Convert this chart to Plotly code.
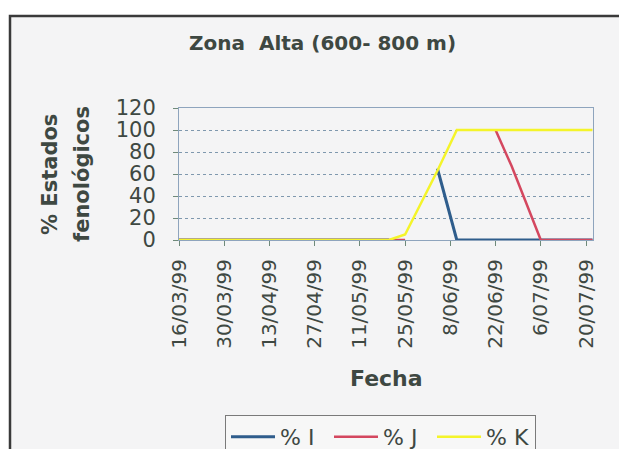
import plotly.graph_objects as go

# ---- data ----
fechas = ["1999-03-16", "1999-05-20", "1999-05-25", "1999-06-04", "1999-06-10",
          "1999-06-22", "1999-06-27", "1999-07-06", "1999-07-22"]
pct_I = [0, 0, None, 65, 0, 0, 0, 0, 0]
pct_J = [0, 0, 0, None, None, 100, 67, 0, 0]
pct_K = [0, 0, 5, 63, 100, 100, 100, 100, 100]

tick_fechas = ["1999-03-16", "1999-03-30", "1999-04-13", "1999-04-27", "1999-05-11",
               "1999-05-25", "1999-06-08", "1999-06-22", "1999-07-06", "1999-07-20"]
tick_labels = ["16/03/99", "30/03/99", "13/04/99", "27/04/99", "11/05/99",
               "25/05/99", "8/06/99", "22/06/99", "6/07/99", "20/07/99"]
y_ticks = [0, 20, 40, 60, 80, 100, 120]

OFF = 8                      # page body margin
W, H = 627 - OFF, 449 - OFF  # figure size
# plot area in screenshot pixels
SX0, SX1, SY0, SY1 = 179, 593, 108, 240
L, R, T, B = SX0 - OFF, SX1 - OFF, SY0 - OFF, SY1 - OFF
TXT = "#3e4842"
FONT = "DejaVu Sans, Verdana, sans-serif"

def px(X):
    return (X - OFF - L) / (R - L)

def py(Y):
    return (B - (Y - OFF)) / (B - T)

fig = go.Figure()
for name, vals, col, w in [("% I", pct_I, "#2f5d8c", 3),
                           ("% J", pct_J, "#d4475f", 2.5),
                           ("% K", pct_K, "#f4f42a", 2.5)]:
    fig.add_trace(go.Scatter(x=fechas, y=vals, name=name, mode="lines",
                             line=dict(color=col, width=w), connectgaps=False,
                             cliponaxis=False))

fig.update_layout(
    width=W, height=H,
    margin=dict(l=L, r=W - R, t=T, b=H - B, autoexpand=False),
    paper_bgcolor="white",
    plot_bgcolor="#f6f8fb",
    font=dict(family=FONT, color=TXT),
    showlegend=True,
    legend=dict(orientation="h", x=px(225), y=py(415), xanchor="left", yanchor="top",
                bgcolor="#f7f7f7", bordercolor="#7a7a7a", borderwidth=1,
                font=dict(size=22, color=TXT), entrywidth=44, itemwidth=44,
                tracegroupgap=0),
)

fig.update_xaxes(
    type="date", range=["1999-03-16", "1999-07-22 04:00"],
    tickmode="array", tickvals=tick_fechas, ticktext=tick_labels,
    tickangle=-90, tickfont=dict(size=20, color=TXT),
    ticks="outside", ticklen=5, tickcolor="#6f8a7a", tickwidth=1,
    ticklabelstandoff=5,
    showgrid=False, showline=True, linecolor="#8ea4bd", linewidth=1, mirror=True,
    zeroline=False,
)
fig.update_yaxes(
    range=[0, 120], tickmode="array", tickvals=y_ticks,
    tickfont=dict(size=21, color=TXT),
    ticks="outside", ticklen=5, tickcolor="#6f8a7a",
    ticklabelstandoff=13,
    showgrid=True, gridcolor="#7f98ae", griddash="dot", gridwidth=1,
    showline=True, linecolor="#8ea4bd", linewidth=1, mirror=True,
    zeroline=False,
)

# outer chart frame (scanned page)
fig.add_shape(type="rect", xref="paper", yref="paper",
              x0=px(10), x1=px(680), y0=py(520), y1=py(16),
              line=dict(color="#3a3a3a", width=2.5), fillcolor="#f4f4f5", layer="below")

ann = dict(xref="paper", yref="paper", showarrow=False, xanchor="center", yanchor="middle")
# title
fig.add_annotation(text="<b>Zona  Alta (600- 800 m)</b>", x=px(322), y=py(43),
                   font=dict(size=20, color=TXT, family=FONT), **ann)
# y axis title (two lines)
fig.add_annotation(text="<b>% Estados</b>", x=px(50), y=py(175), textangle=-90,
                   font=dict(size=21, color=TXT, family=FONT), **ann)
fig.add_annotation(text="<b>fenológicos</b>", x=px(82), y=py(174), textangle=-90,
                   font=dict(size=21, color=TXT, family=FONT), **ann)
# x axis title
fig.add_annotation(text="<b>Fecha</b>", x=px(386), y=py(378),
                   font=dict(size=22, color=TXT, family=FONT), **ann)

fig.write_html("out.html")
